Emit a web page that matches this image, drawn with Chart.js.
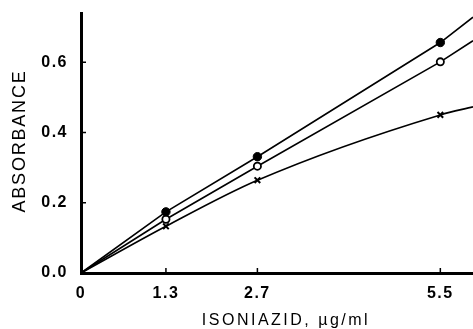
<!DOCTYPE html>
<html><head><meta charset="utf-8">
<script src="https://cdn.jsdelivr.net/npm/chart.js@4/dist/chart.umd.min.js"></script>
<style>html,body{margin:0;padding:0;background:#fff}#wrap{width:473px;height:329px}</style>
</head><body><div id="wrap"><canvas id="c" width="473" height="329"></canvas></div>
<script>
// x: isoniazid concentration (µg/ml); last point = line continued to the plot edge
const concentrations = [0, 1.3, 2.7, 5.5, 6.0];
const filledCircle = [0, 0.174, 0.331, 0.656, 0.728];
const openCircle   = [0, 0.153, 0.304, 0.601, 0.661];
const crossMarks   = [0, 0.133, 0.264, 0.450, 0.473];
const markerShown  = [false, true, true, true, false];
const xTicks = [0, 1.3, 2.7, 5.5];
const yTicks = [0, 0.2, 0.4, 0.6];
const xTitle = 'ISONIAZID, µg/ml';
const yTitle = 'ABSORBANCE';

// letter-spaced axis titles and tick labels
const origDrawTitle = Chart.Scale.prototype.drawTitle;
Chart.Scale.prototype.drawTitle = function () {
  const ctx = this.ctx, t = this.options.title || {};
  ctx.save();
  ctx.letterSpacing = t.spacing || '0px';
  ctx.translate(t.shiftX || 0, t.shiftY || 0);
  origDrawTitle.apply(this, arguments);
  ctx.restore();
};
const origDrawLabels = Chart.Scale.prototype.drawLabels;
Chart.Scale.prototype.drawLabels = function () {
  const ctx = this.ctx, t = this.options.ticks || {};
  ctx.save();
  ctx.letterSpacing = t.spacing || '0px';
  origDrawLabels.apply(this, arguments);
  ctx.restore();
};

const FONT = "'Liberation Sans', Arial, Helvetica, sans-serif";
const toPts = ys => concentrations.map((x, i) => ({x, y: ys[i]}));
const radii = r => markerShown.map(s => s ? r : 0);

const innerTicks = {
  id: 'innerTicks',
  afterDatasetsDraw(chart) {
    const {ctx, scales: {x, y}} = chart;
    ctx.save();
    ctx.strokeStyle = '#000';
    ctx.lineWidth = 1.5;
    ctx.beginPath();
    x.ticks.forEach(t => { if (t.value === 0) return; const p = x.getPixelForValue(t.value); ctx.moveTo(p, y.bottom); ctx.lineTo(p, y.bottom - 5); });
    y.ticks.forEach(t => { if (t.value === 0) return; const p = y.getPixelForValue(t.value); ctx.moveTo(x.left, p); ctx.lineTo(x.left + 5, p); });
    ctx.stroke();
    ctx.restore();
  }
};

const common = {borderColor: '#000', borderWidth: 1.6, pointBorderColor: '#000', fill: false, clip: false};

new Chart(document.getElementById('c'), {
  type: 'line',
  data: {
    datasets: [
      Object.assign({}, common, {label: 'filled', data: toPts(filledCircle), tension: 0,
        pointStyle: 'circle', pointRadius: radii(4.2), pointBackgroundColor: '#000', pointBorderWidth: 1}),
      Object.assign({}, common, {label: 'open', data: toPts(openCircle), tension: 0,
        pointStyle: 'circle', pointRadius: radii(3.6), pointBackgroundColor: '#fff', pointBorderWidth: 1.8}),
      Object.assign({}, common, {label: 'cross', data: toPts(crossMarks), cubicInterpolationMode: 'monotone',
        pointStyle: 'crossRot', pointRadius: radii(4), pointBackgroundColor: '#000', pointBorderWidth: 2})
    ]
  },
  options: {
    responsive: false,
    animation: false,
    devicePixelRatio: 1,
    layout: {padding: {top: 13, right: 0, left: 0, bottom: 0}},
    plugins: {legend: {display: false}, tooltip: {enabled: false}},
    scales: {
      x: {
        type: 'linear', min: 0, max: 6.0,
        afterFit: s => { s.height = 56; s.paddingLeft = 0; s.paddingRight = 0; },
        afterBuildTicks: s => { s.ticks = xTicks.map(v => ({value: v})); },
        grid: {display: false, drawTicks: false},
        border: {display: true, color: '#000', width: 3},
        ticks: {color: '#000', padding: 11, maxRotation: 0, autoSkip: false, spacing: '1.5px',
          font: {family: FONT, size: 16, weight: 'bold'},
          callback: v => v === 0 ? '0' : v.toFixed(1)},
        title: {display: true, text: xTitle, color: '#000', spacing: '2.5px', shiftX: 9,
          font: {family: FONT, size: 16, lineHeight: 1}, padding: {top: 0, bottom: 0}}
      },
      y: {
        type: 'linear', min: 0, max: 0.74,
        afterFit: s => { s.width = 81; s.paddingTop = 0; s.paddingBottom = 0; },
        afterBuildTicks: s => { s.ticks = yTicks.map(v => ({value: v})); },
        grid: {display: false, drawTicks: false},
        border: {display: true, color: '#000', width: 3},
        ticks: {color: '#000', padding: 13, autoSkip: false, spacing: '1.5px',
          font: {family: FONT, size: 16, weight: 'bold'},
          callback: v => v.toFixed(1)},
        title: {display: true, text: yTitle, color: '#000', spacing: '1.8px', shiftY: -2,
          font: {family: FONT, size: 18, lineHeight: 1.2}, padding: {top: 9, bottom: 0}}
      }
    }
  },
  plugins: [innerTicks]
});
</script></body></html>
